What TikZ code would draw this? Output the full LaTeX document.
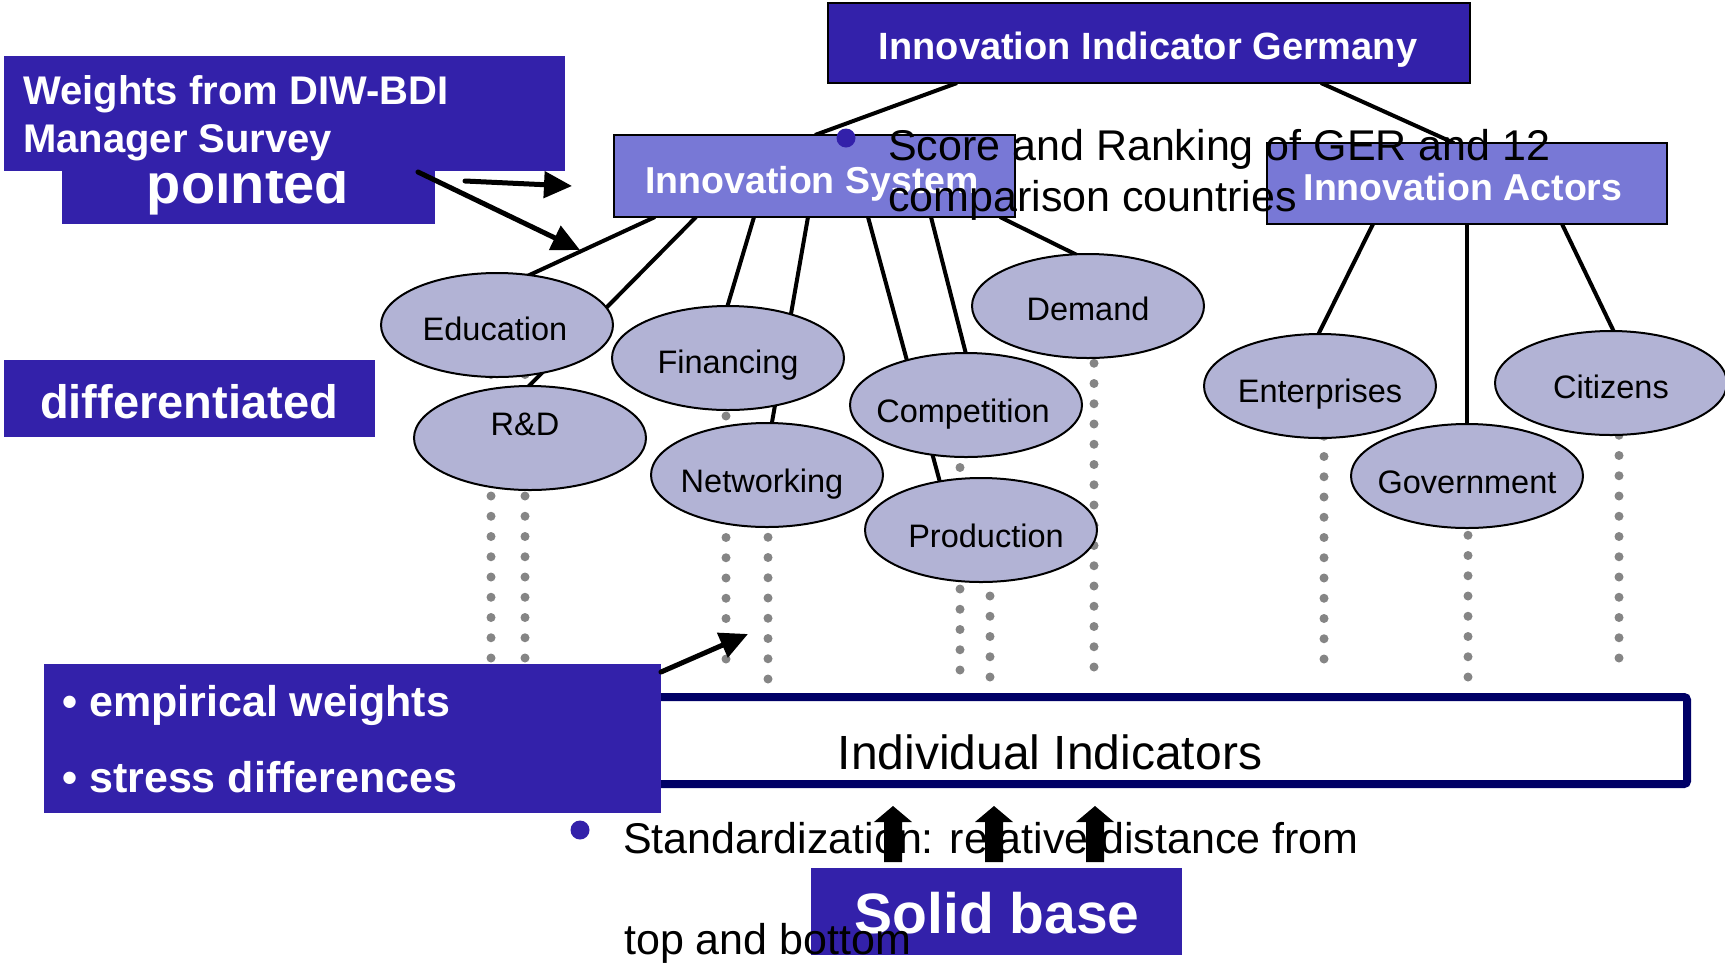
\documentclass[tikz,border=0pt]{standalone}
\usepackage{fontspec}
\setmainfont{Liberation Sans}
\usetikzlibrary{shapes.geometric,arrows.meta}
\pgfdeclarelayer{back}
\pgfsetlayers{back,main}
\definecolor{dblue}{HTML}{3321AA}
\definecolor{mblue}{HTML}{7878D6}
\definecolor{ellfill}{HTML}{B2B3D5}
\definecolor{dotgray}{HTML}{858585}
\definecolor{navyline}{HTML}{000066}
\tikzset{
  flatbox/.style={fill=dblue, inner sep=0pt, outer sep=0pt, anchor=north west},
  framedbox/.style={fill=mblue, draw=black, line width=2pt, inner sep=0pt, outer sep=0pt, anchor=north west},
  oval/.style={ellipse, fill=ellfill, draw=black, line width=2pt, minimum width=232pt, minimum height=104pt, inner sep=0pt, outer sep=0pt},
  ovaltext/.style={font=\fontsize{32.5}{39}\selectfont, anchor=base, inner sep=0pt},
  whitebold/.style={text=white, inner sep=0pt},
  plaintext/.style={inner sep=0pt, anchor=base west},
  link/.style={draw=black, line width=4pt},
  dotcol/.style={draw=dotgray, line width=9pt, line cap=round, dash pattern=on 0pt off 20.25pt},
  fatarrow/.style={draw=black, line width=5pt, line cap=round, -{Triangle[length=28pt,width=26pt]}},
}
\begin{document}
\begin{tikzpicture}[x=1pt,y=-1pt]
\useasboundingbox (0,0) rectangle (1725,962);

% ---- ellipses ----
\node[oval] (edu) at (497,325) {};
\node[ovaltext] (edut) at (495,340) {Education};
\node[oval] (rd) at (530,438) {};
\node[ovaltext] (rdt) at (525,435) {R\&D};
\node[oval] (fin) at (728,358) {};
\node[ovaltext] (fint) at (728,373) {Financing};
\node[oval] (net) at (767,475) {};
\node[ovaltext] (nett) at (762,492) {Networking};
\node[oval] (comp) at (966,405) {};
\node[ovaltext] (compt) at (963,422) {Competition};
\node[oval] (prod) at (981,530) {};
\node[ovaltext] (prodt) at (986,547) {Production};
\node[oval] (dem) at (1088,306) {};
\node[ovaltext] (demt) at (1088,320) {Demand};
\node[oval] (ent) at (1320,386) {};
\node[ovaltext] (entt) at (1320,402) {Enterprises};
\node[oval] (cit) at (1611,383) {};
\node[ovaltext] (citt) at (1611,398) {Citizens};
\node[oval] (gov) at (1467,476) {};
\node[ovaltext] (govt) at (1467,493) {Government};

% ---- hierarchy boxes ----
\node[flatbox, draw=black, line width=2pt, minimum width=642pt, minimum height=80pt] (top) at (828,3) {};
\node[whitebold, anchor=base, font=\fontsize{38}{46}\selectfont\bfseries] (topt) at (1148,59) {Innovation Indicator Germany};
\node[framedbox, minimum width=401pt, minimum height=82pt] (sys) at (614,135) {};
\node[whitebold, anchor=base, font=\fontsize{37.5}{45}\selectfont\bfseries] (syst) at (812,193) {Innovation System};
\node[framedbox, minimum width=400pt, minimum height=81pt] (act) at (1267,143) {};
\node[whitebold, anchor=base, font=\fontsize{37.5}{45}\selectfont\bfseries] (actt) at (1463,200) {Innovation Actors};

% ---- score bullet ----
\fill[dblue] (846,138) circle[radius=9.5pt];
\node[plaintext, font=\fontsize{43}{51}\selectfont] (score1) at (888,160) {Score and Ranking of GER and 12};
\node[plaintext, font=\fontsize{43}{51}\selectfont] (score2) at (888,211) {comparison countries};

% ---- left annotations ----
\node[flatbox, minimum width=373pt, minimum height=84pt] (pt) at (62,140) {};
\node[whitebold, anchor=base, font=\fontsize{56}{66}\selectfont\bfseries] (ptt) at (248,203) {pointed};
\node[flatbox, minimum width=561pt, minimum height=115pt] (wts) at (4,56) {};
\node[whitebold, anchor=base west, font=\fontsize{40}{48}\selectfont\bfseries] (wts1) at (23,104) {Weights from DIW-BDI};
\node[whitebold, anchor=base west, font=\fontsize{40}{48}\selectfont\bfseries] (wts2) at (23,152) {Manager Survey};
\coordinate (ha) at (465,181);
\coordinate (hb) at (572,186);
\coordinate (da) at (418,172);
\coordinate (db) at (580,250);
\draw[fatarrow] (ha) -- (hb);
\draw[fatarrow] (da) -- (db);

\node[flatbox, minimum width=371pt, minimum height=77pt] (dif) at (4,360) {};
\node[whitebold, anchor=base, font=\fontsize{47}{56}\selectfont\bfseries] (dift) at (189,418) {differentiated};

% ---- individual indicators ----
\node[anchor=north west, fill=white, draw=navyline, line width=8pt, rounded corners=3pt, inner sep=0pt, outer sep=0pt, minimum width=1037pt, minimum height=87pt] (ind) at (650,697) {};
\node[anchor=base, inner sep=0pt, font=\fontsize{48}{58}\selectfont] (indt) at (1050,769) {Individual Indicators};

\node[flatbox, minimum width=617pt, minimum height=149pt] (emp) at (44,664) {};
\node[whitebold, anchor=base west, font=\fontsize{43}{51}\selectfont\bfseries] (emp1) at (62,716) {• empirical weights};
\node[whitebold, anchor=base west, font=\fontsize{43}{51}\selectfont\bfseries] (emp2) at (62,792) {• stress differences};
\coordinate (et) at (748,634);
\draw[fatarrow] ([yshift=-8pt]emp.north east) -- (et);

% ---- standardization ----
\fill[dblue] (580,830) circle[radius=9.5pt];
\node[plaintext, font=\fontsize{43}{51}\selectfont] (std1) at (623,853) {Standardization: relative distance from};
\foreach \ax in {893,994,1095}
  \fill[black] (\ax-9,862) -- (\ax-9,822) -- (\ax-19,822) -- (\ax,806) -- (\ax+19,822) -- (\ax+9,822) -- (\ax+9,862) -- cycle;
\node[flatbox, minimum width=371pt, minimum height=87pt] (solid) at (811,868) {};
\node[whitebold, anchor=base, font=\fontsize{57}{68}\selectfont\bfseries] (solidt) at (997,933) {Solid base};
\node[plaintext, font=\fontsize{43}{51}\selectfont] (std2) at (624,954) {top and bottom};

% ---- background connectors ----
\begin{pgfonlayer}{back}
\draw[link] ([xshift=129pt]top.south west) -- ([xshift=201pt]sys.north west);
\draw[link] ([xshift=493pt]top.south west) -- ([xshift=187pt]act.north west);
\draw[link] ([xshift=41pt]sys.south west) -- ([xshift=26pt,yshift=-5pt]edu.north);
\draw[link] ([xshift=82pt]sys.south west) -- ([xshift=-6pt,yshift=-5pt]rd.north);
\draw[link] ([xshift=140pt]sys.south west) -- ([xshift=-2pt,yshift=-5pt]fin.north);
\draw[link] ([xshift=194pt]sys.south west) -- ([xshift=4pt,yshift=-5pt]net.north);
\draw[link] ([xshift=254pt]sys.south west) -- ([xshift=-40pt,yshift=-8pt]prod.north);
\draw[link] ([xshift=317pt]sys.south west) -- ([xshift=1pt,yshift=-5pt]comp.north);
\draw[link] ([xshift=386pt]sys.south west) -- ([xshift=-3pt,yshift=-5pt]dem.north);
\draw[link] ([xshift=106pt]act.south west) -- ([xshift=-4pt,yshift=-5pt]ent.north);
\draw[link] ([xshift=200pt]act.south west) -- ([yshift=-5pt]gov.north);
\draw[link] ([xshift=295pt]act.south west) -- ([xshift=5pt,yshift=-5pt]cit.north);

\coordinate (d1) at (491,658);
\coordinate (d2) at (525,658);
\coordinate (d3) at (726,659);
\coordinate (d4) at (768,679);
\coordinate (d5) at (960,670);
\coordinate (d6) at (990,677);
\coordinate (d7) at (1094,667);
\coordinate (d8) at (1324,659);
\coordinate (d9) at (1468,677);
\coordinate (d10) at (1619,658);
\draw[dotcol] (d1) -- (d1 |- edu.center);
\draw[dotcol] (d2) -- (d2 |- edu.center);
\draw[dotcol] (d3) -- (d3 |- fin.center);
\draw[dotcol] (d4) -- (d4 |- net.center);
\draw[dotcol] (d5) -- (d5 |- comp.center);
\draw[dotcol] (d6) -- (d6 |- prod.center);
\draw[dotcol] (d7) -- (d7 |- dem.center);
\draw[dotcol] (d8) -- (d8 |- ent.center);
\draw[dotcol] (d9) -- (d9 |- gov.center);
\draw[dotcol] (d10) -- (d10 |- cit.center);
\end{pgfonlayer}
\end{tikzpicture}
\end{document}
